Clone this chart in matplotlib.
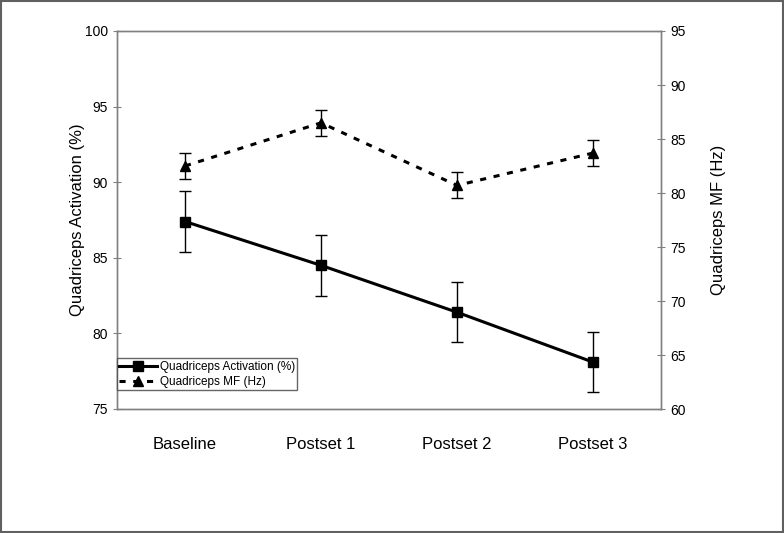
import matplotlib.pyplot as plt
from matplotlib.lines import Line2D

plt.rcParams["font.family"] = ["Liberation Sans", "DejaVu Sans"]

categories = ["Baseline", "Postset 1", "Postset 2", "Postset 3"]
activation = [87.4, 84.5, 81.4, 78.1]
activation_err = [2.0, 2.0, 2.0, 2.0]
mf = [82.5, 86.5, 80.7, 83.7]
mf_err = [1.2, 1.2, 1.2, 1.2]

fig = plt.figure(figsize=(7.84, 5.33), dpi=100)
ax = fig.add_axes([117 / 784, 1 - 409 / 533, 544 / 784, 378 / 533])
ax2 = ax.twinx()

x = list(range(len(categories)))

ax.errorbar(x, activation, yerr=activation_err, color="black", lw=2.2,
            marker="s", ms=7.5, capsize=4, elinewidth=1, capthick=1, zorder=3)
ax2.errorbar(x, mf, yerr=mf_err, color="black", lw=2.2, ls=(0, (2, 2.5)),
             marker="^", ms=7.5, capsize=4, elinewidth=1, capthick=1, zorder=3)

ax.set_xlim(-0.5, 3.5)
ax.set_ylim(75, 100)
ax.set_yticks(range(75, 101, 5))
ax2.set_ylim(60, 95)
ax2.set_yticks(range(60, 96, 5))

ax.set_xticks(x)
ax.set_xticklabels(categories, fontsize=12)
ax.tick_params(axis="x", length=0, pad=20)
ax.tick_params(axis="y", direction="inout", length=6, labelsize=10, color="#808080")
ax2.tick_params(axis="y", direction="inout", length=6, labelsize=10, color="#808080")

for a in (ax, ax2):
    for s in a.spines.values():
        s.set_color("#808080")
        s.set_linewidth(1)

ax.set_ylabel("Quadriceps Activation (%)", fontsize=12, labelpad=0)
ax2.set_ylabel("Quadriceps MF (Hz)", fontsize=12, labelpad=18)

handles = [
    Line2D([], [], color="black", lw=2.2, marker="s", ms=7.5),
    Line2D([], [], color="black", lw=2.2, ls=(0, (2, 2.5)), marker="^", ms=7.5),
]
leg = ax2.legend(handles, ["Quadriceps Activation (%)", "Quadriceps MF (Hz)"],
                 loc="lower left", bbox_to_anchor=(0.0, 0.05), fontsize=8.5,
                 frameon=True, fancybox=False, borderpad=0.2, labelspacing=0.25,
                 handlelength=3.2, handletextpad=0.2, borderaxespad=0)
leg.get_frame().set_edgecolor("#404040")
leg.get_frame().set_linewidth(1)

fig.patches.append(plt.Rectangle((0.001, 0.001), 0.998, 0.997, transform=fig.transFigure,
                                 fill=False, edgecolor="#606060", lw=1.5))

fig.savefig("out.png", dpi=100)
